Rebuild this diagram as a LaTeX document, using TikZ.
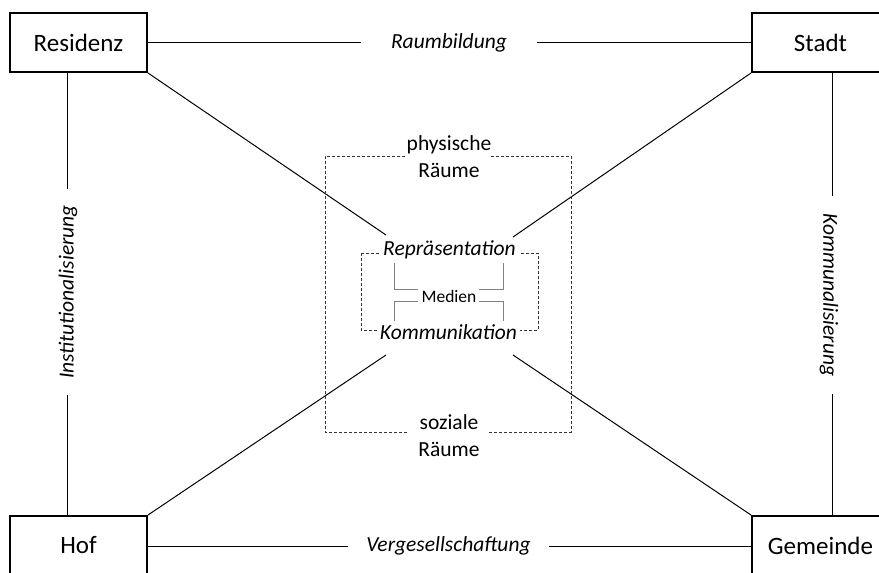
\documentclass[tikz,border=0pt]{standalone}
\usepackage{fontspec}
\setmainfont{Carlito}
\begin{document}
\begin{tikzpicture}[x=1pt,y=-1pt,
  box/.style={draw, line width=2pt, minimum width=137pt, minimum height=59pt, inner sep=0pt, font=\fontsize{25}{30}\selectfont},
  lab/.style={inner ysep=0pt, font=\itshape\fontsize{21.5}{26}\selectfont},
  txt/.style={inner sep=0pt, align=center, font=\fontsize{21.5}{27}\selectfont},
  conn/.style={line width=1pt, black},
  dsh/.style={line width=0.9pt, black!80, dash pattern=on 3pt off 2pt},
  brk/.style={line width=1pt, gray}]
\useasboundingbox (0,0) rectangle (879,573);
\clip (0,0) rectangle (879,573);
% corner boxes
\node[box] (res) at (78.5,42.5) {Residenz};
\node[box] (sta) at (820.5,42.5) {Stadt};
\node[box] (hof) at (78.5,545.5) {Hof};
\node[box] (gem) at (820.5,545.5) {Gemeinde};
% edge labels
\node[lab, inner xsep=30pt] (raum) at (449,43) {Raumbildung};
\node[lab, inner xsep=18pt] (verg) at (448.5,546) {Vergesellschaftung};
\node[lab, rotate=90, inner xsep=16pt] (inst) at (68,292) {Institutionalisierung};
\node[lab, rotate=-90, inner xsep=17pt] (komm) at (829,295) {Kommunalisierung};
\coordinate (lx) at (67,0);
\coordinate (rx) at (832,0);
% outer connectors
\draw[conn] (res.east) -- (res.east -| raum.west);
\draw[conn] (raum.east |- sta.west) -- (sta.west);
\draw[conn] (hof.east |- verg.west) -- (verg.west);
\draw[conn] (verg.east) -- (verg.east -| gem.west);
\draw[conn] (res.south -| lx) -- (inst.east -| lx);
\draw[conn] (inst.west -| lx) -- (hof.north -| lx);
\draw[conn] (sta.south -| rx) -- (komm.west -| rx);
\draw[conn] (komm.east -| rx) -- (gem.north -| rx);
% diagonals
\coordinate (d1) at (386,235);
\coordinate (d2) at (513,237);
\coordinate (d3) at (386,355);
\coordinate (d4) at (513,355);
\draw[conn] (res.south east) -- (d1);
\draw[conn] (sta.south west) -- (d2);
\draw[conn] (hof.north east) -- (d3);
\draw[conn] (gem.north west) -- (d4);
% outer dashed frame
\draw[dsh] (405,156) -- (325,156) -- (325,432) -- (407,432);
\draw[dsh] (489,432) -- (571,432) -- (571,156) -- (489,156);
\node[txt] (phys) at (449,156.5) {physische\\Räume};
\node[txt] (soz) at (449,436) {soziale\\Räume};
% inner dashed frame
\draw[dsh] (361,253) rectangle (538,330);
\node[lab, fill=white, inner xsep=3pt] (rep) at (449.5,250) {Repräsentation};
\node[lab, fill=white, inner xsep=3pt] (kom) at (448.5,332) {Kommunikation};
% Medien
\node[inner sep=0pt, font=\fontsize{17.5}{20}\selectfont] (med) at (449,296) {Medien};
\draw[brk] (394,263) -- (394,289) -- (418,289);
\draw[brk] (503,263) -- (503,289) -- (479,289);
\draw[brk] (394,321) -- (394,301) -- (418,301);
\draw[brk] (503,321) -- (503,301) -- (479,301);
\end{tikzpicture}
\end{document}
